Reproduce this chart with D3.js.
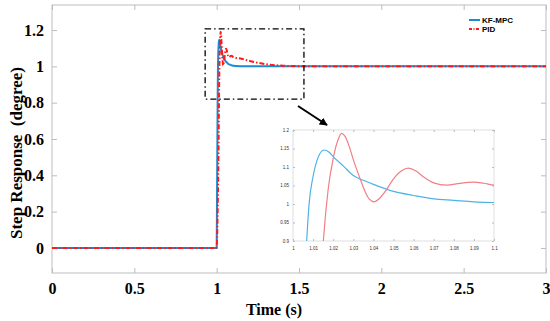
<!DOCTYPE html>
<html>
<head>
<meta charset="utf-8">
<script src="https://cdn.jsdelivr.net/npm/d3@7"></script>
<style>
  body { margin: 0; background: #fff; }
  svg { display: block; }
</style>
</head>
<body>
<div id="canvas"></div>
<script>
// Step response: KF-MPC vs PID, with zoomed inset of the transient

const width = 550, height = 321;

// data
const timeMpc = [0, 1.0, 1.002, 1.004, 1.006, 1.0068, 1.008, 1.010, 1.0125, 1.0154, 1.018, 1.020,
  1.025, 1.03, 1.035, 1.04, 1.05, 1.06, 1.07, 1.08, 1.09, 1.1, 1.15, 1.2, 1.3, 3];
const respMpc = [0, 0, 0.25, 0.55, 0.82, 0.9, 1.0, 1.075, 1.126, 1.146, 1.14, 1.128,
  1.103, 1.077, 1.064, 1.053, 1.034, 1.023, 1.014, 1.010, 1.006, 1.004, 1.001, 1.0, 1.0, 1.0];

const timePid = [0, 1.0, 1.005, 1.01, 1.013, 1.0151, 1.0175, 1.0201, 1.0225, 1.0242, 1.026, 1.028,
  1.030, 1.033, 1.036, 1.038, 1.0403, 1.043, 1.0463, 1.05, 1.054, 1.0574, 1.061, 1.065, 1.07,
  1.0765, 1.083, 1.0897, 1.095, 1.1, 1.15, 1.2, 1.3, 1.4, 1.5, 1.6, 3];
const respPid = [0, 0, 0.15, 0.45, 0.7, 0.9, 1.04, 1.126, 1.175, 1.191, 1.182, 1.155,
  1.12, 1.074, 1.032, 1.013, 1.006, 1.015, 1.037, 1.068, 1.09, 1.097, 1.09, 1.073, 1.057,
  1.051, 1.056, 1.059, 1.056, 1.051, 1.042, 1.03, 1.012, 1.004, 1.001, 1.0, 1.0];

const xTicks = [0, 0.5, 1, 1.5, 2, 2.5, 3];
const yTicks = [0, 0.2, 0.4, 0.6, 0.8, 1, 1.2];
const insetXTicks = [1, 1.01, 1.02, 1.03, 1.04, 1.05, 1.06, 1.07, 1.08, 1.09, 1.1];
const insetYTicks = [0.9, 0.95, 1, 1.05, 1.1, 1.15, 1.2];
const seriesNames = ["KF-MPC", "PID"];

const svg = d3.select("#canvas").append("svg")
  .attr("width", width).attr("height", height)
  .style("background", "#fff");

const m = { left: 52, right: 546, top: 5, bottom: 273 };
const x = d3.scaleLinear().domain([0, 3]).range([m.left, m.right]);
const y = d3.scaleLinear().domain([-0.138, 1.338]).range([m.bottom, m.top]);

const serif = "'Liberation Serif', 'Times New Roman', serif";
const axisGray = "#bdbdbd";

// box + inward ticks
svg.append("rect").attr("x", m.left).attr("y", m.top)
  .attr("width", m.right - m.left).attr("height", m.bottom - m.top)
  .attr("fill", "none").attr("stroke", axisGray).attr("stroke-width", 1);

function styleAxis(g) {
  g.select(".domain").remove();
  g.selectAll(".tick line").attr("stroke", axisGray);
}

svg.append("g").attr("transform", `translate(0,${m.bottom})`)
  .call(d3.axisBottom(x).tickValues(xTicks).tickSize(-5).tickPadding(10).tickFormat(d3.format("")))
  .call(styleAxis)
  .call(g => g.selectAll("text").attr("font-family", serif).attr("font-weight", "bold")
    .attr("font-size", 16).attr("fill", "#000"));
svg.append("g").attr("transform", `translate(0,${m.top})`)
  .call(d3.axisTop(x).tickValues(xTicks).tickSize(-5).tickFormat(""))
  .call(styleAxis);
svg.append("g").attr("transform", `translate(${m.left},0)`)
  .call(d3.axisLeft(y).tickValues(yTicks).tickSize(-5).tickPadding(8).tickFormat(d3.format("")))
  .call(styleAxis)
  .call(g => g.selectAll("text").attr("font-family", serif).attr("font-weight", "bold")
    .attr("font-size", 16).attr("fill", "#000"));
svg.append("g").attr("transform", `translate(${m.right},0)`)
  .call(d3.axisRight(y).tickValues(yTicks).tickSize(-5).tickFormat(""))
  .call(styleAxis);

// axis titles
svg.append("text").attr("x", 274).attr("y", 315).attr("text-anchor", "middle")
  .attr("font-family", serif).attr("font-weight", "bold").attr("font-size", 16)
  .text("Time (s)");
svg.append("text").attr("transform", `translate(22,153) rotate(-90)`)
  .attr("text-anchor", "middle").attr("font-family", serif).attr("font-weight", "bold")
  .attr("font-size", 17).attr("xml:space", "preserve")
  .text("Step Response  (degree)");

// main curves
const mpcData = timeMpc.map((t, i) => [t, respMpc[i]]);
const pidData = timePid.map((t, i) => [t, respPid[i]]);

const line = d3.line().x(d => x(d[0])).y(d => y(d[1])).curve(d3.curveMonotoneX);
svg.append("path").datum(mpcData).attr("d", line)
  .attr("fill", "none").attr("stroke", "#1b8bd6").attr("stroke-width", 2);
svg.append("path").datum(pidData).attr("d", line)
  .attr("fill", "none").attr("stroke", "#ff1a1a").attr("stroke-width", 2)
  .attr("stroke-dasharray", "5,2,1.5,2");

// legend
const legend = svg.append("g").attr("transform", "translate(469,20)");
legend.append("line").attr("x1", 0).attr("x2", 11).attr("y1", 0).attr("y2", 0)
  .attr("stroke", "#1b8bd6").attr("stroke-width", 2);
legend.append("line").attr("x1", 0).attr("x2", 11).attr("y1", 9).attr("y2", 9)
  .attr("stroke", "#ff1a1a").attr("stroke-width", 2).attr("stroke-dasharray", "3,1.5,1,1.5");
legend.selectAll("text.lab").data(seriesNames).join("text").attr("class", "lab")
  .attr("x", 13).attr("y", (d, i) => i * 9 + 3)
  .attr("font-family", "'Liberation Sans', Arial, sans-serif").attr("font-weight", "bold")
  .attr("font-size", 8).text(d => d);

// zoom window on main plot
const zx0 = 0.93, zx1 = 1.53, zy0 = 0.82, zy1 = 1.206;
svg.append("rect")
  .attr("x", x(zx0)).attr("y", y(zy1))
  .attr("width", x(zx1) - x(zx0)).attr("height", y(zy0) - y(zy1))
  .attr("fill", "none").attr("stroke", "#000").attr("stroke-width", 1.3)
  .attr("stroke-dasharray", "6,3,1.5,3");

// arrow
svg.append("defs").append("marker").attr("id", "arrowhead")
  .attr("viewBox", "0 0 10 10").attr("refX", 9).attr("refY", 5)
  .attr("markerWidth", 4).attr("markerHeight", 4).attr("orient", "auto")
  .append("path").attr("d", "M0,0 L10,5 L0,10 Z").attr("fill", "#000");
svg.append("line").attr("x1", 298).attr("y1", 106).attr("x2", 327).attr("y2", 125)
  .attr("stroke", "#000").attr("stroke-width", 2).attr("marker-end", "url(#arrowhead)");

// inset
const ins = { left: 293, right: 494, top: 130, bottom: 241 };
const ix = d3.scaleLinear().domain([1, 1.1]).range([ins.left, ins.right]);
const iy = d3.scaleLinear().domain([0.9, 1.2]).range([ins.bottom, ins.top]);

const inset = svg.append("g");
inset.append("rect").attr("x", ins.left).attr("y", ins.top)
  .attr("width", ins.right - ins.left).attr("height", ins.bottom - ins.top)
  .attr("fill", "#fff").attr("stroke", "#d6d6d6").attr("stroke-width", 0.8);

const smallFont = g => g.selectAll("text").attr("font-family", "'Liberation Sans', Arial, sans-serif")
  .attr("font-size", 4.5).attr("fill", "#333");

inset.append("g").attr("transform", `translate(0,${ins.bottom})`)
  .call(d3.axisBottom(ix).tickValues(insetXTicks).tickSize(-2).tickPadding(6).tickFormat(d3.format("")))
  .call(styleAxis).call(smallFont);
inset.append("g").attr("transform", `translate(0,${ins.top})`)
  .call(d3.axisTop(ix).tickValues(insetXTicks).tickSize(-2).tickFormat(""))
  .call(styleAxis);
inset.append("g").attr("transform", `translate(${ins.left},0)`)
  .call(d3.axisLeft(iy).tickValues(insetYTicks).tickSize(-2).tickPadding(4).tickFormat(d3.format("")))
  .call(styleAxis).call(smallFont);
inset.append("g").attr("transform", `translate(${ins.right},0)`)
  .call(d3.axisRight(iy).tickValues(insetYTicks).tickSize(-2).tickFormat(""))
  .call(styleAxis);

inset.append("clipPath").attr("id", "insetClip").append("rect")
  .attr("x", ins.left).attr("y", ins.top - 2)
  .attr("width", ins.right - ins.left).attr("height", ins.bottom - ins.top + 2);

const iline = d3.line().x(d => ix(d[0])).y(d => iy(d[1])).curve(d3.curveMonotoneX);
const clipped = inset.append("g").attr("clip-path", "url(#insetClip)");
clipped.append("path").datum(mpcData.filter(d => d[0] >= 1 && d[0] <= 1.15)).attr("d", iline)
  .attr("fill", "none").attr("stroke", "#4db3e6").attr("stroke-width", 1.2);
clipped.append("path").datum(pidData.filter(d => d[0] >= 1 && d[0] <= 1.15)).attr("d", iline)
  .attr("fill", "none").attr("stroke", "#f07f86").attr("stroke-width", 1.2);
</script>
</body>
</html>
